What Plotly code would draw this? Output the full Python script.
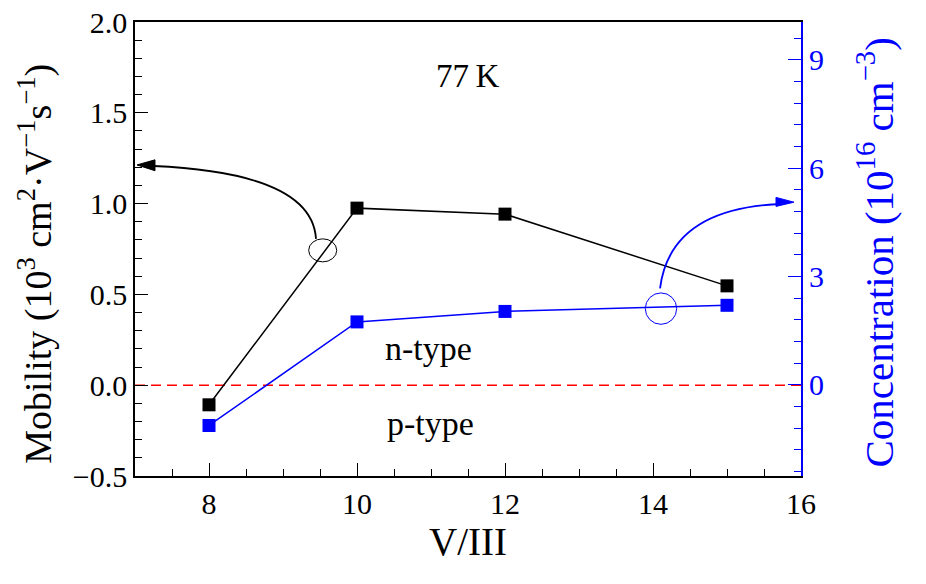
import plotly.graph_objects as go

# ---- data ----
v_iii = [8, 10, 12, 15]
mobility = [-0.108, 0.975, 0.942, 0.547]          # 10^3 cm^2 V^-1 s^-1
concentration = [-1.13, 1.74, 2.03, 2.20]         # 10^16 cm^-3

x_ticks = [8, 10, 12, 14, 16]
y_ticks = [-0.5, 0.0, 0.5, 1.0, 1.5, 2.0]
y2_ticks = [0, 3, 6, 9]

FONT = "Liberation Serif"
BLUE = "#0000ff"

fig = go.Figure()
fig.add_trace(go.Scatter(
    x=v_iii, y=mobility, mode="lines+markers",
    line=dict(color="black", width=1.5),
    marker=dict(symbol="square", size=13, color="black"),
    showlegend=False))
fig.add_trace(go.Scatter(
    x=v_iii, y=concentration, mode="lines+markers", yaxis="y2",
    line=dict(color=BLUE, width=1.5),
    marker=dict(symbol="square", size=13, color=BLUE),
    showlegend=False))

# zero reference line
fig.add_shape(type="line", xref="x", yref="y", x0=7, x1=16, y0=0, y1=0,
              line=dict(color="red", width=1.5, dash="10px,6px"), layer="below")

# black ellipse marking the mobility curve + arrow to left axis
fig.add_shape(type="circle", xref="x", yref="y",
              x0=9.347, x1=9.726, y0=0.679, y1=0.806,
              line=dict(color="black", width=1))
fig.add_shape(type="path", xref="x", yref="y",
              path="M 9.446,0.806 Q 9.392,1.169 7.25,1.207",
              line=dict(color="black", width=1.8))
fig.add_shape(type="path", xref="x", yref="y",
              path="M 7.027,1.213 L 7.27,1.241 L 7.27,1.181 Z",
              fillcolor="black", line=dict(color="black", width=1))

# blue circle marking the concentration curve + arrow to right axis
fig.add_shape(type="circle", xref="x", yref="y2",
              x0=13.896, x1=14.32, y0=1.673, y1=2.543,
              line=dict(color=BLUE, width=1))
fig.add_shape(type="path", xref="x", yref="y2",
              path="M 14.095,2.671 Q 14.23,4.837 15.662,5.0",
              line=dict(color=BLUE, width=1.8))
fig.add_shape(type="path", xref="x", yref="y2",
              path="M 15.905,5.057 L 15.662,5.19 L 15.662,4.94 Z",
              fillcolor=BLUE, line=dict(color=BLUE, width=1))

# text labels
for txt, xx, yy, sz in [("77\u2009K", 11.5, 1.703, 33), ("n-type", 10.96, 0.2, 34), ("p-type", 10.99, -0.213, 34)]:
    fig.add_annotation(x=xx, y=yy, xref="x", yref="y", text=txt, showarrow=False,
                       font=dict(family=FONT, size=sz, color="black"))

# axis titles (vertical) placed as paper-anchored annotations
fig.add_annotation(x=-0.149, y=0.467, xref="paper", yref="paper", textangle=-90,
                   text="Mobility (10<sup>3</sup> cm<sup>2</sup>\u00b7V<sup>\u22121</sup>s<sup>\u22121</sup>)",
                   showarrow=False, xanchor="center", yanchor="middle",
                   font=dict(family=FONT, size=38, color="black"))
fig.add_annotation(x=1.111, y=0.492, xref="paper", yref="paper", textangle=-90,
                   text="Concentration (10<sup>16</sup> cm<sup>\u22123</sup>)",
                   showarrow=False, xanchor="center", yanchor="middle",
                   font=dict(family=FONT, size=41, color=BLUE))

fig.update_layout(
    width=926, height=584,
    margin=dict(l=135, r=125, t=22, b=108, autoexpand=False),
    plot_bgcolor="white", paper_bgcolor="white",
    font=dict(family=FONT, size=30, color="black"),
    xaxis=dict(range=[7, 16], tickvals=x_ticks, ticks="inside", ticklen=13, tickwidth=1,
               tickcolor="black", showline=True, linecolor="black", linewidth=1.5, mirror=True,
               showgrid=False, zeroline=False, ticklabeloverflow="allow", automargin=False,
               minor=dict(dtick=0.5, tick0=7, ticks="inside", ticklen=7, tickcolor="black", showgrid=False),
               title=dict(text="V/III", font=dict(size=39), standoff=2),
               tickfont=dict(size=30)),
    yaxis=dict(range=[-0.5, 2.0], tickvals=y_ticks, tickformat=".1f", ticks="inside", ticklen=13,
               tickwidth=1, tickcolor="black", showline=True, linecolor="black", linewidth=1.5,
               showgrid=False, zeroline=False, ticklabeloverflow="allow", automargin=False,
               minor=dict(dtick=0.1, tick0=0, ticks="inside", ticklen=7, tickcolor="black", showgrid=False),
               tickfont=dict(size=30)),
    yaxis2=dict(range=[-2.53, 10.05], overlaying="y", side="right", tickvals=y2_ticks,
                ticks="inside", ticklen=13, tickwidth=1, tickcolor=BLUE, showline=True,
                linecolor=BLUE, linewidth=2, showgrid=False, zeroline=False,
                ticklabeloverflow="allow", automargin=False,
                minor=dict(dtick=0.6, tick0=0, ticks="inside", ticklen=7, tickcolor=BLUE, showgrid=False),
                tickfont=dict(size=30, color=BLUE)),
)

# remove the browser's default 8px body margin so the figure sits at the page origin
fig.write_html("out.html", config={"displayModeBar": False},
               post_script="document.body.style.margin='0';")
